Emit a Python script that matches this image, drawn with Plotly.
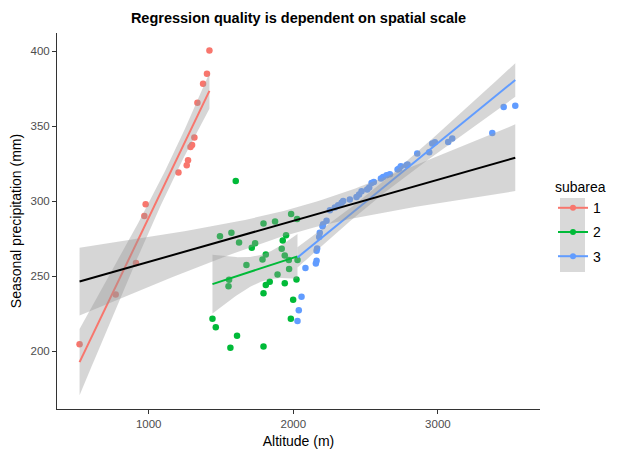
import numpy as np
import plotly.graph_objects as go

# ---- data ----
alt_1 = [1420, 1403, 1376, 1337, 1316, 1300, 1289, 1272, 1263, 1206, 979, 970, 912, 772, 522]
prec_1 = [400.7, 385.1, 378.5, 365.8, 342.5, 337.5, 336.2, 327.3, 324.0, 319.1, 298.0, 290.2, 258.7, 237.8, 204.5]

alt_2 = [1602, 1493, 1572, 1625, 1794, 1874, 1985, 2026, 1950, 1927, 1736, 1713, 1920, 1810,
         1787, 1941, 1969, 2029, 1676, 1971, 1891, 1556, 1552, 1837, 1810, 2022, 1941, 1794,
         1999, 1441, 1464, 1983, 1611, 1565, 1794]
prec_2 = [313.5, 276.7, 278.9, 272.5, 285.1, 286.5, 291.5, 288.2, 277.3, 273.8, 272.0, 268.9,
          268.2, 264.5, 261.1, 263.8, 260.7, 260.7, 257.5, 254.7, 251.1, 247.5, 243.3, 246.2,
          244.0, 247.8, 245.3, 238.5, 234.2, 221.5, 215.8, 221.5, 210.2, 202.2, 203.1]

alt_3 = [2029, 2038, 2057, 2084, 2156, 2161, 2161, 2165, 2179, 2183, 2202, 2206, 2230, 2253,
         2287, 2310, 2334, 2345, 2391, 2437, 2455, 2472, 2511, 2525, 2541, 2557, 2606, 2621,
         2645, 2668, 2721, 2732, 2744, 2783, 2790, 2857, 2940, 2961, 2979, 3071, 3099, 3376,
         3455, 3535]
prec_3 = [220.0, 227.3, 236.2, 255.5, 258.5, 260.2, 266.9, 268.5, 276.2, 278.9, 283.3, 284.7,
          286.9, 294.0, 295.8, 297.3, 298.9, 300.2, 301.1, 302.9, 304.5, 306.7, 307.8, 309.1,
          312.2, 312.9, 315.1, 316.2, 317.3, 318.0, 321.1, 321.8, 323.3, 324.0, 324.5, 331.8,
          332.7, 338.5, 339.3, 339.5, 341.8, 345.5, 362.9, 363.8]

subareas = ["1", "2", "3"]
colors = ["#F8766D", "#00BA38", "#619CFF"]
x_ticks = [1000, 2000, 3000]
y_ticks = [200, 250, 300, 350, 400]

groups = [(alt_1, prec_1), (alt_2, prec_2), (alt_3, prec_3)]


def t_quantile(df, z=1.959963985):
    return (z + (z**3 + z) / (4 * df) + (5 * z**5 + 16 * z**3 + 3 * z) / (96 * df**2)
            + (3 * z**7 + 19 * z**5 + 17 * z**3 - 15 * z) / (384 * df**3))


def lm_fit(x, y, n_out=80):
    x = np.asarray(x, float)
    y = np.asarray(y, float)
    n = len(x)
    b, a = np.polyfit(x, y, 1)
    resid = y - (a + b * x)
    s = np.sqrt(np.sum(resid**2) / (n - 2))
    xs = np.linspace(x.min(), x.max(), n_out)
    yhat = a + b * xs
    se = s * np.sqrt(1 / n + (xs - x.mean())**2 / np.sum((x - x.mean())**2))
    t = t_quantile(n - 2)
    return xs, yhat, yhat - t * se, yhat + t * se


fig = go.Figure()
ribbon_fill = "rgba(153,153,153,0.4)"

# points
for (xv, yv), col, name in zip(groups, colors, subareas):
    fig.add_trace(go.Scatter(x=xv, y=yv, mode="markers", marker=dict(color=col, size=6.5),
                             showlegend=False, hoverinfo="x+y"))

# group smooths
for (xv, yv), col, name in zip(groups, colors, subareas):
    xs, yh, lo, hi = lm_fit(xv, yv)
    fig.add_trace(go.Scatter(x=np.concatenate([xs, xs[::-1]]), y=np.concatenate([hi, lo[::-1]]),
                             fill="toself", fillcolor=ribbon_fill, line=dict(width=0),
                             mode="lines", showlegend=False, hoverinfo="skip"))
    fig.add_trace(go.Scatter(x=xs, y=yh, mode="lines", line=dict(color=col, width=2),
                             showlegend=False))

# overall smooth
all_x = alt_1 + alt_2 + alt_3
all_y = prec_1 + prec_2 + prec_3
xs, yh, lo, hi = lm_fit(all_x, all_y)
fig.add_trace(go.Scatter(x=np.concatenate([xs, xs[::-1]]), y=np.concatenate([hi, lo[::-1]]),
                         fill="toself", fillcolor=ribbon_fill, line=dict(width=0),
                         mode="lines", showlegend=False, hoverinfo="skip"))
fig.add_trace(go.Scatter(x=xs, y=yh, mode="lines", line=dict(color="black", width=2),
                         showlegend=False))

# legend entries
for col, name in zip(colors, subareas):
    fig.add_trace(go.Scatter(x=[None], y=[None], mode="lines+markers", name=name,
                             line=dict(color=col, width=2), marker=dict(color=col, size=6),
                             legendgroup=name, showlegend=True))

# page body has an 8px default margin; work in page pixel coordinates
OFF = 8
W, H = 618 - OFF, 454 - OFF
PL, PR, PT, PB = 57, 540, 33, 409  # plot area in page pixels
L = PL - OFF
T = PT - OFF
R = W - (PR - OFF)
B = H - (PB - OFF)
pw = PR - PL
ph = PB - PT


def px_x(p):
    return (p - PL) / pw


def px_y(p):
    return 1 - (p - PT) / ph


fig.update_layout(
    width=W, height=H,
    margin=dict(l=L, r=R, t=T, b=B, autoexpand=False),
    paper_bgcolor="white", plot_bgcolor="white",
    font=dict(family="Liberation Sans, Arial, sans-serif", color="black"),
    title=dict(text="<b>Regression quality is dependent on spatial scale</b>",
               x=((PL + PR) / 2 - OFF) / W, xanchor="center", y=1 - (18 - OFF) / H,
               yanchor="middle", font=dict(size=14.5, color="black")),
    xaxis=dict(range=[366, 3706], tickvals=x_ticks, ticks="outside", ticklen=4,
               tickcolor="#333333", showline=True, linecolor="#333333", linewidth=1,
               showgrid=False, zeroline=False, automargin=False,
               tickfont=dict(size=11.5, color="#4D4D4D"),
               title=dict(text="Altitude (m)", font=dict(size=14), standoff=7)),
    yaxis=dict(range=[161.3, 412.3], tickvals=y_ticks, ticks="outside", ticklen=4,
               tickcolor="#333333", showline=True, linecolor="#333333", linewidth=1,
               showgrid=False, zeroline=False, automargin=False,
               tickfont=dict(size=11.5, color="#4D4D4D"),
               title=dict(text="Seasonal precipitation (mm)", font=dict(size=14), standoff=6)),
    legend=dict(x=px_x(553), xanchor="left", y=px_y(174), yanchor="top",
                title=dict(text="subarea", font=dict(size=14)),
                font=dict(size=14), tracegroupgap=3, itemwidth=30,
                bgcolor="rgba(0,0,0,0)"),
    shapes=[dict(type="rect", xref="paper", yref="paper",
                 x0=px_x(560), x1=px_x(585), y0=px_y(272), y1=px_y(198),
                 fillcolor="#D9D9D9", line=dict(width=0), layer="below")],
)

fig.write_html("out.html")
